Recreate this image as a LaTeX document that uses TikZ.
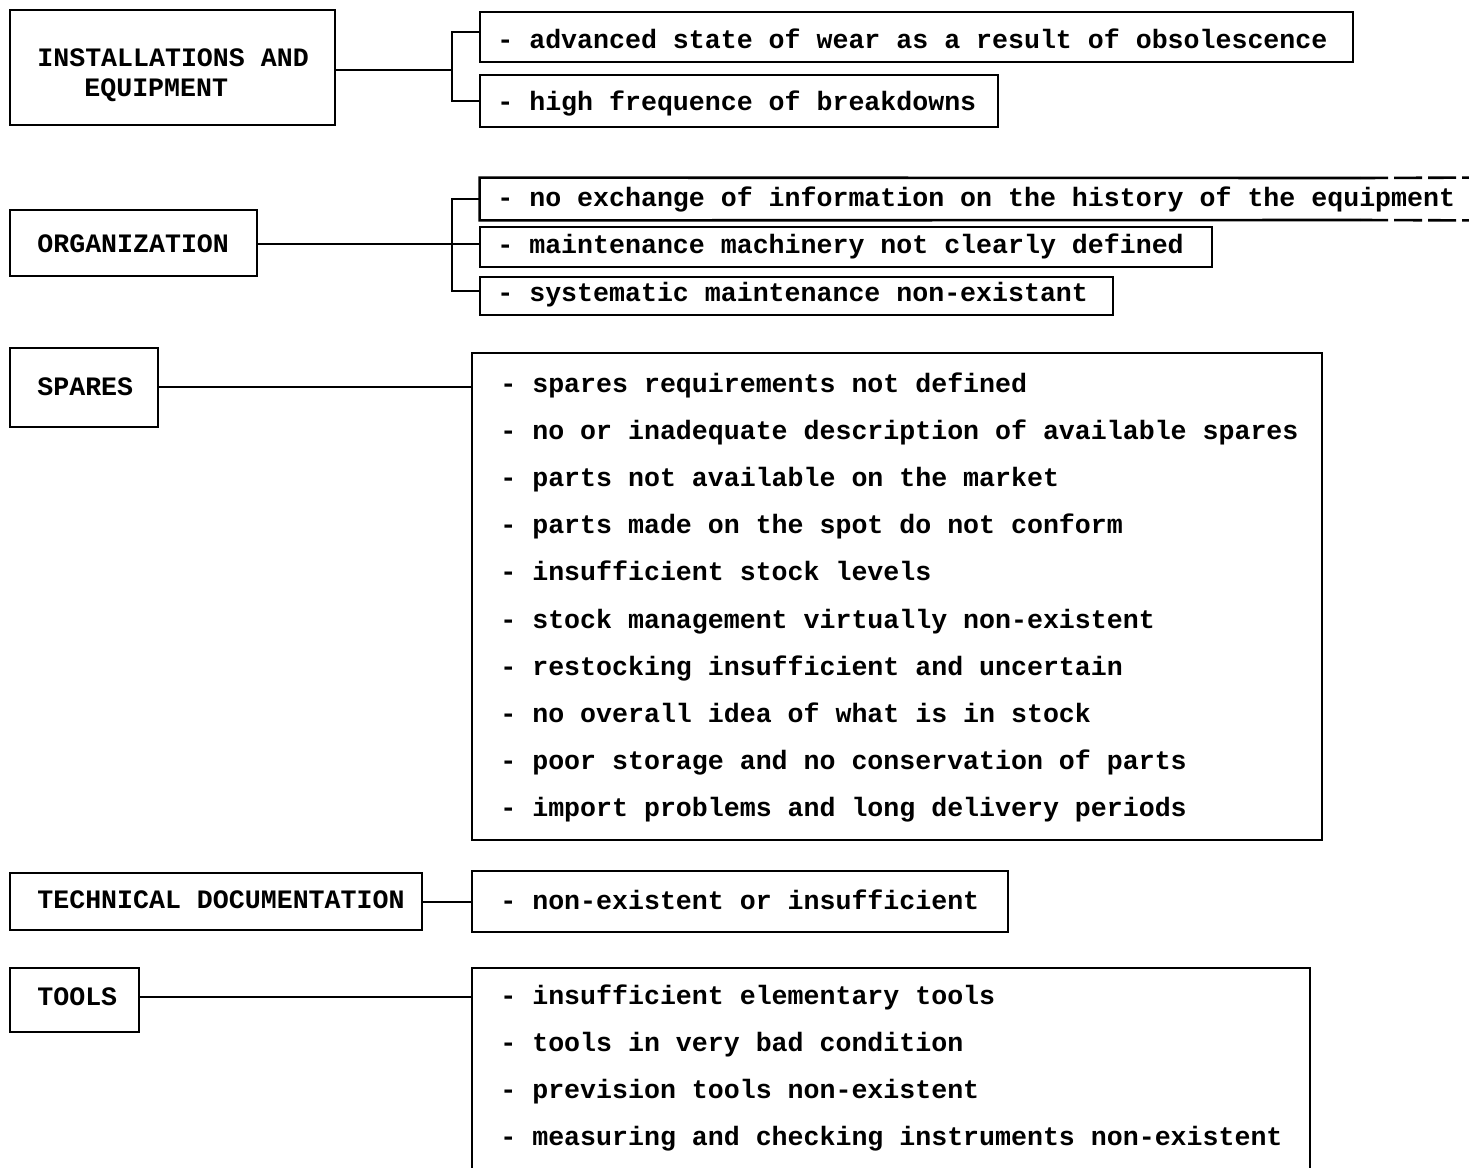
\documentclass[tikz,border=0pt]{standalone}
\usepackage{fontspec}
\setmonofont{Liberation Mono}
\usetikzlibrary{fit}
\begin{document}
\begin{tikzpicture}[x=0.5pt,y=-0.5pt,
  box/.style={draw, line width=1.3pt, inner sep=0pt, rectangle},
  frame/.style={inner sep=0pt, rectangle},
  txt/.style={font=\ttfamily\bfseries\fontsize{13.3pt}{16pt}\selectfont, inner sep=0pt, anchor=mid west, yshift=-1.8pt},
  head/.style={font=\ttfamily\bfseries\fontsize{13.3pt}{16pt}\selectfont, inner sep=0pt, anchor=base west},
  con/.style={line width=1.3pt}]
\useasboundingbox (0,0) rectangle (1469,1168);

% ---------- INSTALLATIONS AND EQUIPMENT ----------
\node[box, fit={(10,10)(335,125)}] (ie) {};
\node[head] (ie1) at (37,66) {INSTALLATIONS AND};
\node[head] (ie2) at (84,96) {EQUIPMENT};
\node[box, fit={(480,12)(1353,62)}] (b11) {};
\node[txt] (t11x) at (497,41) {- advanced state of wear as a result of obsolescence};
\node[box, fit={(480,75)(998,127)}] (b12) {};
\node[txt] (t12x) at (497,103) {- high frequence of breakdowns};
\coordinate (j1) at (452,70);
\coordinate (k11) at (480,32);
\coordinate (k12) at (480,101);
\draw[con] (ie.east |- j1) -- (j1);
\draw[con] (k11) -| (j1) |- (k12);

% ---------- ORGANIZATION ----------
\node[box, fit={(10,210)(257,276)}] (org) {};
\node[head] (orgt) at (37,252) {ORGANIZATION};
\node[frame, fit={(480,178)(1469,220)}] (b21) {};
\draw[con] (1360,178) -- (b21.north west) -- (b21.south west) -- (1360,220);
\draw[con, dash pattern=on 14pt off 3pt] (1360,178) -- (b21.north east);
\draw[con, dash pattern=on 14pt off 3pt] (1360,220) -- (b21.south east);
\node[txt] (t21x) at (497,199) {- no exchange of information on the history of the equipment};
\node[box, fit={(480,227)(1212,267)}] (b22) {};
\node[txt] (t22x) at (497,246) {- maintenance machinery not clearly defined};
\node[box, fit={(480,277)(1113,315)}] (b23) {};
\node[txt] (t23x) at (497,294) {- systematic maintenance non-existant};
\coordinate (j2) at (452,244);
\coordinate (k21) at (480,199);
\coordinate (k23) at (480,291);
\draw[con] (org.east |- j2) -- (j2 -| b22.west);
\draw[con] (k21) -| (j2) |- (k23);

% ---------- SPARES ----------
\node[box, fit={(10,348)(158,427)}] (sp) {};
\node[head] (spt) at (37,395) {SPARES};
\node[box, fit={(472,353)(1322,840)}] (sl) {};
\node[txt] (s1) at (500,385) {- spares requirements not defined};
\node[txt] (s2) at (500,432) {- no or inadequate description of available spares};
\node[txt] (s3) at (500,479) {- parts not available on the market};
\node[txt] (s4) at (500,526) {- parts made on the spot do not conform};
\node[txt] (s5) at (500,573) {- insufficient stock levels};
\node[txt] (s6) at (500,621) {- stock management virtually non-existent};
\node[txt] (s7) at (500,668) {- restocking insufficient and uncertain};
\node[txt] (s8) at (500,715) {- no overall idea of what is in stock};
\node[txt] (s9) at (500,762) {- poor storage and no conservation of parts};
\node[txt] (s10) at (500,809) {- import problems and long delivery periods};
\coordinate (j3) at (300,387);
\draw[con] (sp.east |- j3) -- (j3 -| sl.west);

% ---------- TECHNICAL DOCUMENTATION ----------
\node[box, fit={(10,873)(422,930)}] (td) {};
\node[head] (tdt) at (37,908) {TECHNICAL DOCUMENTATION};
\node[box, fit={(472,871)(1008,932)}] (tdl) {};
\node[txt] (tdx) at (500,902) {- non-existent or insufficient};
\coordinate (j4) at (440,902);
\draw[con] (td.east |- j4) -- (j4 -| tdl.west);

% ---------- TOOLS ----------
\node[box, fit={(10,968)(139,1032)}] (tools) {};
\node[head] (toolst) at (37,1005) {TOOLS};
\node[box, fit={(472,968)(1310,1190)}] (tl) {};
\node[txt] (u1) at (500,997) {- insufficient elementary tools};
\node[txt] (u2) at (500,1044) {- tools in very bad condition};
\node[txt] (u3) at (500,1091) {- prevision tools non-existent};
\node[txt] (u4) at (500,1138) {- measuring and checking instruments non-existent};
\coordinate (j5) at (300,997);
\draw[con] (tools.east |- j5) -- (j5 -| tl.west);
\end{tikzpicture}
\end{document}
